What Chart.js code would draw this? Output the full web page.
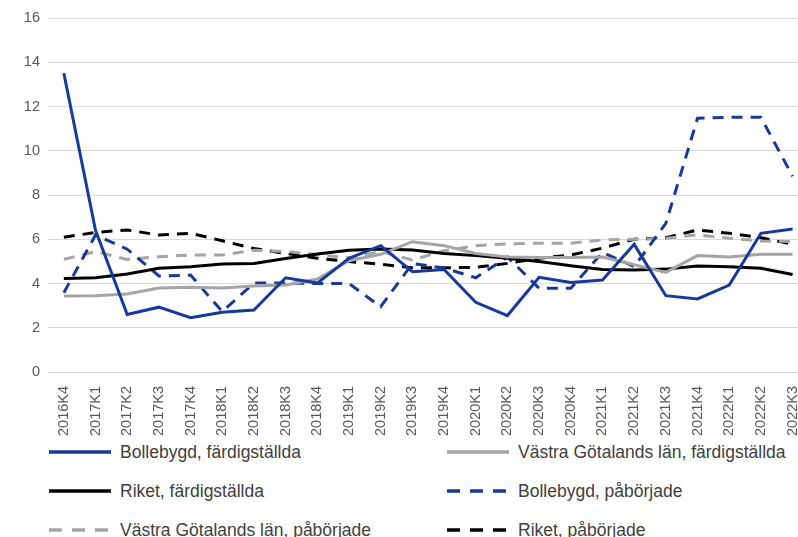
<!DOCTYPE html>
<html>
<head>
<meta charset="utf-8">
<script src="https://cdn.jsdelivr.net/npm/chart.js@4"></script>
<style>
  html, body { margin: 0; padding: 0; background: #fff; overflow: hidden; }
  #wrap { position: relative; width: 798px; height: 537px; overflow: hidden; }
  #chart { position: absolute; left: 0; top: 0; }
  .legend-item {
    position: absolute; display: flex; align-items: center; height: 24px;
    font-family: "Liberation Sans", Arial, sans-serif; font-size: 17.5px; color: #404040;
    white-space: nowrap;
  }
  .legend-item svg { margin-right: 9px; }
</style>
</head>
<body>
<div id="wrap">
  <canvas id="chart" width="816" height="440"></canvas>
  <div id="legend"></div>
</div>
<script>
// Kvartal
const labels = ['2016K4', '2017K1', '2017K2', '2017K3', '2017K4', '2018K1', '2018K2', '2018K3', '2018K4',
    '2019K1', '2019K2', '2019K3', '2019K4', '2020K1', '2020K2', '2020K3', '2020K4',
    '2021K1', '2021K2', '2021K3', '2021K4', '2022K1', '2022K2', '2022K3'];

// Serier
const bollFard = [13.5, 6.4, 2.6, 2.93, 2.45, 2.7, 2.8, 4.26, 4.02, 5.14, 5.71, 4.53, 4.63, 3.15, 2.55, 4.28, 4.05, 4.16, 5.77, 3.45, 3.3, 3.93, 6.27, 6.46];
const vgFard = [3.43, 3.45, 3.53, 3.8, 3.83, 3.8, 3.89, 3.93, 4.2, 5.03, 5.32, 5.89, 5.71, 5.36, 5.2, 5.17, 5.17, 5.2, 4.85, 4.5, 5.26, 5.2, 5.32, 5.32];
const riketFard = [4.23, 4.26, 4.43, 4.69, 4.76, 4.88, 4.9, 5.13, 5.33, 5.5, 5.56, 5.51, 5.36, 5.26, 5.14, 4.99, 4.8, 4.63, 4.61, 4.65, 4.79, 4.76, 4.69, 4.41];
const bollPab = [3.58, 6.19, 5.55, 4.34, 4.38, 2.73, 4.02, 4.02, 4.0, 4.0, 2.95, 4.9, 4.7, 4.26, 5.2, 3.78, 3.78, 5.4, 4.76, 6.72, 11.47, 11.51, 11.51, 8.85];
const vgPab = [5.09, 5.44, 5.09, 5.21, 5.29, 5.29, 5.5, 5.45, 5.3, 5.17, 5.44, 5.06, 5.48, 5.71, 5.79, 5.82, 5.82, 5.97, 6.0, 6.04, 6.2, 6.04, 5.92, 5.9];
const riketPab = [6.09, 6.31, 6.42, 6.19, 6.27, 5.93, 5.58, 5.36, 5.14, 4.99, 4.87, 4.71, 4.71, 4.73, 4.91, 5.14, 5.29, 5.6, 6.0, 6.07, 6.42, 6.27, 6.07, 5.77];

// Y-axelns ticks
const yTicks = [0, 2, 4, 6, 8, 10, 12, 14, 16];

const BLUE = '#16399a';
const GREY = '#a5a5a5';
const BLACK = '#000000';
const DASH = [11, 8];

const datasets = [
    { label: 'Bollebygd, färdigställda', data: bollFard, borderColor: BLUE, borderDash: [] },
    { label: 'Västra Götalands län, färdigställda', data: vgFard, borderColor: GREY, borderDash: [] },
    { label: 'Riket, färdigställda', data: riketFard, borderColor: BLACK, borderDash: [] },
    { label: 'Bollebygd, påbörjade', data: bollPab, borderColor: BLUE, borderDash: DASH },
    { label: 'Västra Götalands län, påbörjade', data: vgPab, borderColor: GREY, borderDash: DASH },
    { label: 'Riket, påbörjade', data: riketPab, borderColor: BLACK, borderDash: DASH }
];

const tickFont = { family: '"Liberation Sans", Arial, sans-serif', size: 14.5 };

const chart = new Chart(document.getElementById('chart').getContext('2d'), {
    type: 'line',
    data: {
        labels: labels,
        datasets: datasets.map(d => Object.assign({
            borderWidth: 3,
            pointRadius: 0,
            tension: 0,
            fill: false,
            backgroundColor: d.borderColor
        }, d))
    },
    options: {
        responsive: false,
        animation: false,
        layout: { padding: { top: 18, right: 0, left: 0, bottom: 0 } },
        plugins: { legend: { display: false }, tooltip: { enabled: false } },
        scales: {
            y: {
                min: 0,
                max: 16,
                afterBuildTicks: s => { s.ticks = yTicks.map(v => ({ value: v })); },
                afterFit: s => { s.width = 48; },
                ticks: { color: '#595959', font: tickFont, padding: 8 },
                grid: { color: '#d9d9d9', lineWidth: 1, drawTicks: false },
                border: { display: false }
            },
            x: {
                offset: true,
                afterFit: s => { s.height = 68; },
                ticks: {
                    color: '#595959', font: tickFont,
                    minRotation: 90, maxRotation: 90, autoSkip: false, padding: 6
                },
                grid: { display: false },
                border: { display: false }
            }
        }
    }
});

// Förklaring i två kolumner
const legendCols = [49, 447];
const legendRows = [452, 491, 530];
const legendEl = document.getElementById('legend');
datasets.forEach((d, i) => {
    const item = document.createElement('div');
    item.className = 'legend-item';
    item.style.left = legendCols[i % 2] + 'px';
    item.style.top = (legendRows[Math.floor(i / 2)] - 12) + 'px';
    const dash = d.borderDash.length ? 'stroke-dasharray="13,10"' : '';
    item.innerHTML = `<svg width="62" height="6"><line x1="0" y1="3" x2="62" y2="3" stroke="${d.borderColor}" stroke-width="3.5" ${dash}/></svg><span>${d.label}</span>`;
    legendEl.appendChild(item);
});
</script>
</body>
</html>
